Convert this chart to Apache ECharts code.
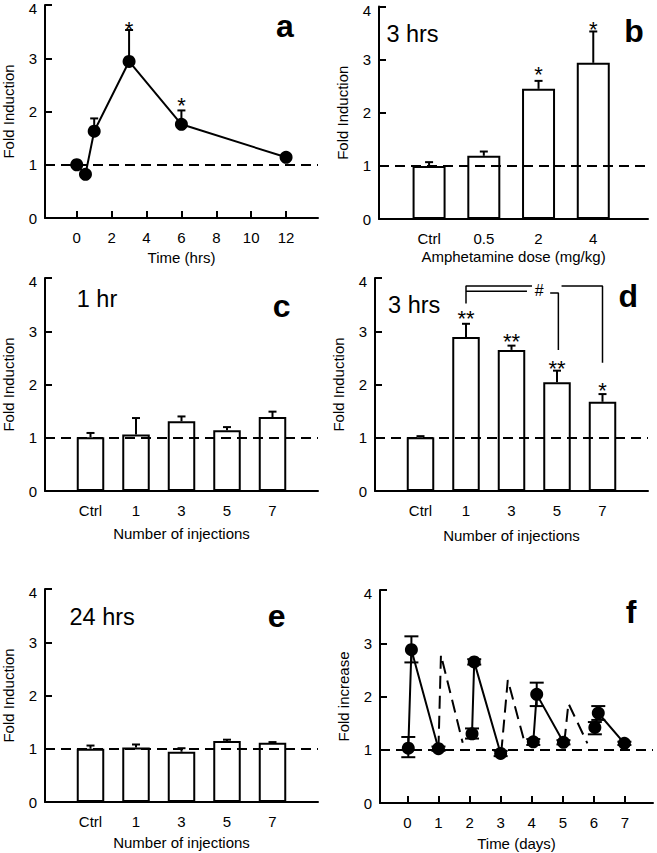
<!DOCTYPE html>
<html>
<head>
<meta charset="utf-8">
<script src="https://cdn.jsdelivr.net/npm/echarts@6/dist/echarts.min.js"></script>
<style>
html,body{margin:0;padding:0;background:#fff;}
#chart{width:657px;height:853px;}
</style>
</head>
<body>
<div id="chart"></div>
<script>
// ---------------- data ----------------
// panel a: time course
const aTime = [0, 0.5, 1, 3, 6, 12];
const aFold = [1.00, 0.82, 1.63, 2.94, 1.76, 1.14];
const aErrHigh = [null, null, 1.87, 3.53, 2.02, null];
const aTicks = [0, 2, 4, 6, 8, 10, 12];
const aStars = [[3, 3.64], [6, 2.20]];
const aStarText = ['*', '*'];

// panel b: dose response
const bCats = ['Ctrl', '0.5', '2', '4'];
const bFold = [1.00, 1.19, 2.45, 2.94];
const bErrHigh = [1.07, 1.27, 2.60, 3.53];
const bStars = [[2, 2.82], [3, 3.67]];
const bStarText = ['*', '*'];

// panels c, d, e: number of injections
const injCats = ['Ctrl', '1', '3', '5', '7'];
const cFold = [1.01, 1.06, 1.31, 1.14, 1.39];
const cErrHigh = [1.09, 1.37, 1.40, 1.20, 1.49];
const dFold = [1.01, 2.89, 2.65, 2.04, 1.675];
const dErrHigh = [1.03, 3.14, 2.73, 2.26, 1.82];
const dStars = [[1, 3.33], [2, 2.91], [3, 2.40], [4, 1.99]];
const dStarText = ['**', '**', '**', '*'];
const dBracketOuterL = [[1, 3.52], [1, 3.85], [2.45, 3.85]];
const dBracketOuterR = [[3.10, 3.85], [4, 3.85], [4, 2.41]];
const dBracketInnerL = [[1, 3.75], [2.34, 3.75]];
const dBracketInnerR = [[2.85, 3.72], [3.03, 3.72], [3.03, 2.65]];
const dHash = [[2.61, 3.77]];
const dHashText = ['#'];
const eFold = [1.00, 1.025, 0.944, 1.144, 1.113];
const eErrHigh = [1.06, 1.08, 1.01, 1.17, 1.125];

// panel f: repeated injections over days
const fSolid1 = [[0.03, 1.03], [0.13, 2.88], [1.00, 1.02]];
const fSolid2 = [[2.08, 1.30], [2.15, 2.65], [3.00, 0.93]];
const fSolid3 = [[4.05, 1.15], [4.16, 2.04], [5.02, 1.14]];
const fSolid4 = [[6.03, 1.42], [6.14, 1.69], [6.98, 1.12]];
const fDash1 = [[1.00, 1.02], [1.08, 2.78], [1.78, 1.13]];
const fDash2 = [[3.02, 0.95], [3.23, 2.31], [3.78, 1.12]];
const fDash3 = [[5.05, 1.15], [5.18, 1.87], [5.79, 1.12]];
// [x, low, high]
const fErr = [[0.03, 0.86, 1.24], [0.13, 2.64, 3.13], [1.00, 0.98, 1.06],
              [2.08, 1.21, 1.40], [2.15, 2.60, 2.70], [3.00, 0.88, 0.98],
              [4.05, 1.09, 1.20], [4.16, 1.82, 2.26], [5.02, 1.10, 1.18],
              [6.03, 1.29, 1.52], [6.14, 1.56, 1.82], [6.98, 1.09, 1.15]];
const fTicks = [0, 1, 2, 3, 4, 5, 6, 7];

// ---------------- helpers ----------------
const FONT = '"Liberation Sans", Arial, Helvetica, sans-serif';
const BLACK = '#000';

function xAxisCfg(gi, min, max, ticks, labels, showTick, name, nameGap) {
  return {
    type: 'value', gridIndex: gi, min: min, max: max,
    name: name, nameLocation: 'middle', nameGap: nameGap,
    nameTextStyle: {fontFamily: FONT, fontSize: 15, color: BLACK},
    axisLine: {show: true, onZero: false, lineStyle: {color: BLACK, width: 2}},
    axisTick: {show: showTick, inside: true, length: 7, customValues: ticks, lineStyle: {color: BLACK, width: 2}},
    axisLabel: {customValues: ticks, margin: 12, fontFamily: FONT, fontSize: 15, color: BLACK,
      formatter: function (v) { return labels ? labels[Math.round(v)] : String(v); }},
    splitLine: {show: false}
  };
}
function yAxisCfg(gi, name) {
  return {
    type: 'value', gridIndex: gi, min: 0, max: 4, interval: 1,
    name: name, nameLocation: 'middle', nameGap: 29,
    nameTextStyle: {fontFamily: FONT, fontSize: 15, color: BLACK},
    axisLine: {show: true, onZero: false, lineStyle: {color: BLACK, width: 2}},
    axisTick: {show: true, inside: true, length: 7, lineStyle: {color: BLACK, width: 2}},
    axisLabel: {margin: 8, fontFamily: FONT, fontSize: 15, color: BLACK,
      formatter: function (v) { return v === 4 ? '{top|4}' : String(v); },
      rich: {top: {fontFamily: FONT, fontSize: 15, color: BLACK, padding: [7, 0, 0, 0]}}},
    splitLine: {show: false}
  };
}
function errSeries(gi, data, capHalf, both) {
  return {
    type: 'custom', xAxisIndex: gi, yAxisIndex: gi, clip: false, z: 3,
    data: data,
    renderItem: function (params, api) {
      const x = api.value(0), lo = api.value(1), hi = api.value(2);
      const p1 = api.coord([x, lo]), p2 = api.coord([x, hi]);
      const st = {stroke: BLACK, lineWidth: 2};
      const ch = [
        {type: 'line', shape: {x1: p1[0], y1: p1[1], x2: p2[0], y2: p2[1]}, style: st},
        {type: 'line', shape: {x1: p2[0] - capHalf, y1: p2[1], x2: p2[0] + capHalf, y2: p2[1]}, style: st}
      ];
      if (both) ch.push({type: 'line', shape: {x1: p1[0] - capHalf, y1: p1[1], x2: p1[0] + capHalf, y2: p1[1]}, style: st});
      return {type: 'group', children: ch};
    }
  };
}
function textSeries(gi, data, texts, size, dy) {
  return {
    type: 'custom', xAxisIndex: gi, yAxisIndex: gi, clip: false, z: 6,
    data: data,
    renderItem: function (params, api) {
      const p = api.coord([api.value(0), api.value(1)]);
      return {type: 'text', x: p[0], y: p[1] + dy,
        style: {text: texts[params.dataIndex], fontFamily: FONT, fontSize: size, fill: BLACK,
          align: 'center', verticalAlign: 'middle'}};
    }
  };
}
function refLine(gi) {
  return {
    type: 'line', xAxisIndex: gi, yAxisIndex: gi, data: [], z: 10, silent: true,
    markLine: {silent: true, symbol: 'none', animation: false, label: {show: false},
      lineStyle: {type: [10, 6], color: BLACK, width: 2}, data: [{yAxis: 1}]}
  };
}
function barSeries(gi, vals, width) {
  return {
    type: 'bar', xAxisIndex: gi, yAxisIndex: gi, barWidth: width, z: 2,
    data: vals.map(function (v, i) { return [i, v]; }),
    itemStyle: {color: '#fff', borderColor: BLACK, borderWidth: 2}
  };
}
function barErr(vals, highs) { return vals.map(function (v, i) { return [i, v, highs[i]]; }); }
function lineSeries(gi, data, dashed, symbols) {
  return {
    type: 'line', xAxisIndex: gi, yAxisIndex: gi, data: data, z: 4,
    symbol: symbols ? 'circle' : 'none', symbolSize: 13, showSymbol: !!symbols,
    itemStyle: {color: BLACK},
    lineStyle: {color: BLACK, width: 2, type: dashed ? [13, 7] : 'solid'}
  };
}
function bracket(gi, data) {
  return {type: 'line', xAxisIndex: gi, yAxisIndex: gi, data: data, z: 4, symbol: 'none',
    lineStyle: {color: BLACK, width: 1.5}};
}

const aErrData = aTime.map(function (t, i) { return [t, aFold[i], aErrHigh[i]]; })
  .filter(function (d) { return d[2] !== null; });

function label(x, y, text, size, bold) {
  return {type: 'text', x: x, y: y, style: {text: text, fontFamily: FONT, fontSize: size,
    fontWeight: bold ? 'bold' : 'normal', fill: BLACK, align: 'center', verticalAlign: 'middle'}};
}

const option = {
  animation: false,
  textStyle: {fontFamily: FONT},
  grid: [
    {left: 45, top: 5, width: 273, height: 213, outerBoundsMode: 'none'},
    {left: 379, top: 6.5, width: 269, height: 212.5, outerBoundsMode: 'none'},
    {left: 45, top: 278, width: 273, height: 213, outerBoundsMode: 'none'},
    {left: 375, top: 278, width: 273, height: 213, outerBoundsMode: 'none'},
    {left: 45, top: 589, width: 273, height: 213, outerBoundsMode: 'none'},
    {left: 380, top: 590, width: 273, height: 213, outerBoundsMode: 'none'}
  ],
  xAxis: [
    xAxisCfg(0, -1.82, 13.83, aTicks, null, true, 'Time (hrs)', 32),
    xAxisCfg(1, -0.915, 4.0, [0, 1, 2, 3], bCats, false, 'Amphetamine dose (mg/kg)', 30),
    xAxisCfg(2, -1, 5, [0, 1, 2, 3, 4], injCats, false, 'Number of injections', 35),
    xAxisCfg(3, -1, 5, [0, 1, 2, 3, 4], injCats, false, 'Number of injections', 37),
    xAxisCfg(4, -1, 5, [0, 1, 2, 3, 4], injCats, false, 'Number of injections', 33),
    xAxisCfg(5, -0.88, 7.9, fTicks, null, true, 'Time (days)', 33)
  ],
  yAxis: [
    yAxisCfg(0, 'Fold Induction'),
    yAxisCfg(1, 'Fold Induction'),
    yAxisCfg(2, 'Fold Induction'),
    yAxisCfg(3, 'Fold Induction'),
    yAxisCfg(4, 'Fold Induction'),
    yAxisCfg(5, 'Fold increase')
  ],
  series: [
    // a
    refLine(0),
    errSeries(0, aErrData, 4, false),
    lineSeries(0, aTime.map(function (t, i) { return [t, aFold[i]]; }), false, true),
    textSeries(0, aStars, aStarText, 22, 5),
    // b
    barSeries(1, bFold, 33),
    errSeries(1, barErr(bFold, bErrHigh), 4, false),
    refLine(1),
    textSeries(1, bStars, bStarText, 22, 5),
    // c
    barSeries(2, cFold, 27.5),
    errSeries(2, barErr(cFold, cErrHigh), 4, false),
    refLine(2),
    // d
    barSeries(3, dFold, 27.5),
    errSeries(3, barErr(dFold, dErrHigh), 4, false),
    refLine(3),
    textSeries(3, dStars, dStarText, 22, 5),
    bracket(3, dBracketOuterL), bracket(3, dBracketOuterR),
    bracket(3, dBracketInnerL), bracket(3, dBracketInnerR),
    textSeries(3, dHash, dHashText, 16, 0),
    // e
    barSeries(4, eFold, 27.5),
    errSeries(4, barErr(eFold, eErrHigh), 4, false),
    refLine(4),
    // f
    refLine(5),
    errSeries(5, fErr, 7, true),
    lineSeries(5, fDash1, true, false),
    lineSeries(5, fDash2, true, false),
    lineSeries(5, fDash3, true, false),
    lineSeries(5, fSolid1, false, true),
    lineSeries(5, fSolid2, false, true),
    lineSeries(5, fSolid3, false, true),
    lineSeries(5, fSolid4, false, true)
  ],
  graphic: [
    label(285, 25.6, 'a', 32, true),
    label(634, 30.6, 'b', 32, true),
    label(281.7, 305.6, 'c', 32, true),
    label(628.3, 295.6, 'd', 32, true),
    label(276.7, 615.6, 'e', 32, true),
    label(631, 612.2, 'f', 32, true),
    label(412.5, 33.7, '3 hrs', 23.5, false),
    label(97, 298.7, '1 hr', 23.5, false),
    label(414.2, 305.3, '3 hrs', 23.5, false),
    label(102.2, 616.8, '24 hrs', 23.5, false)
  ]
};

const chart = echarts.init(document.getElementById('chart'), null, {renderer: 'svg', width: 657, height: 853});
chart.setOption(option);
</script>
</body>
</html>
